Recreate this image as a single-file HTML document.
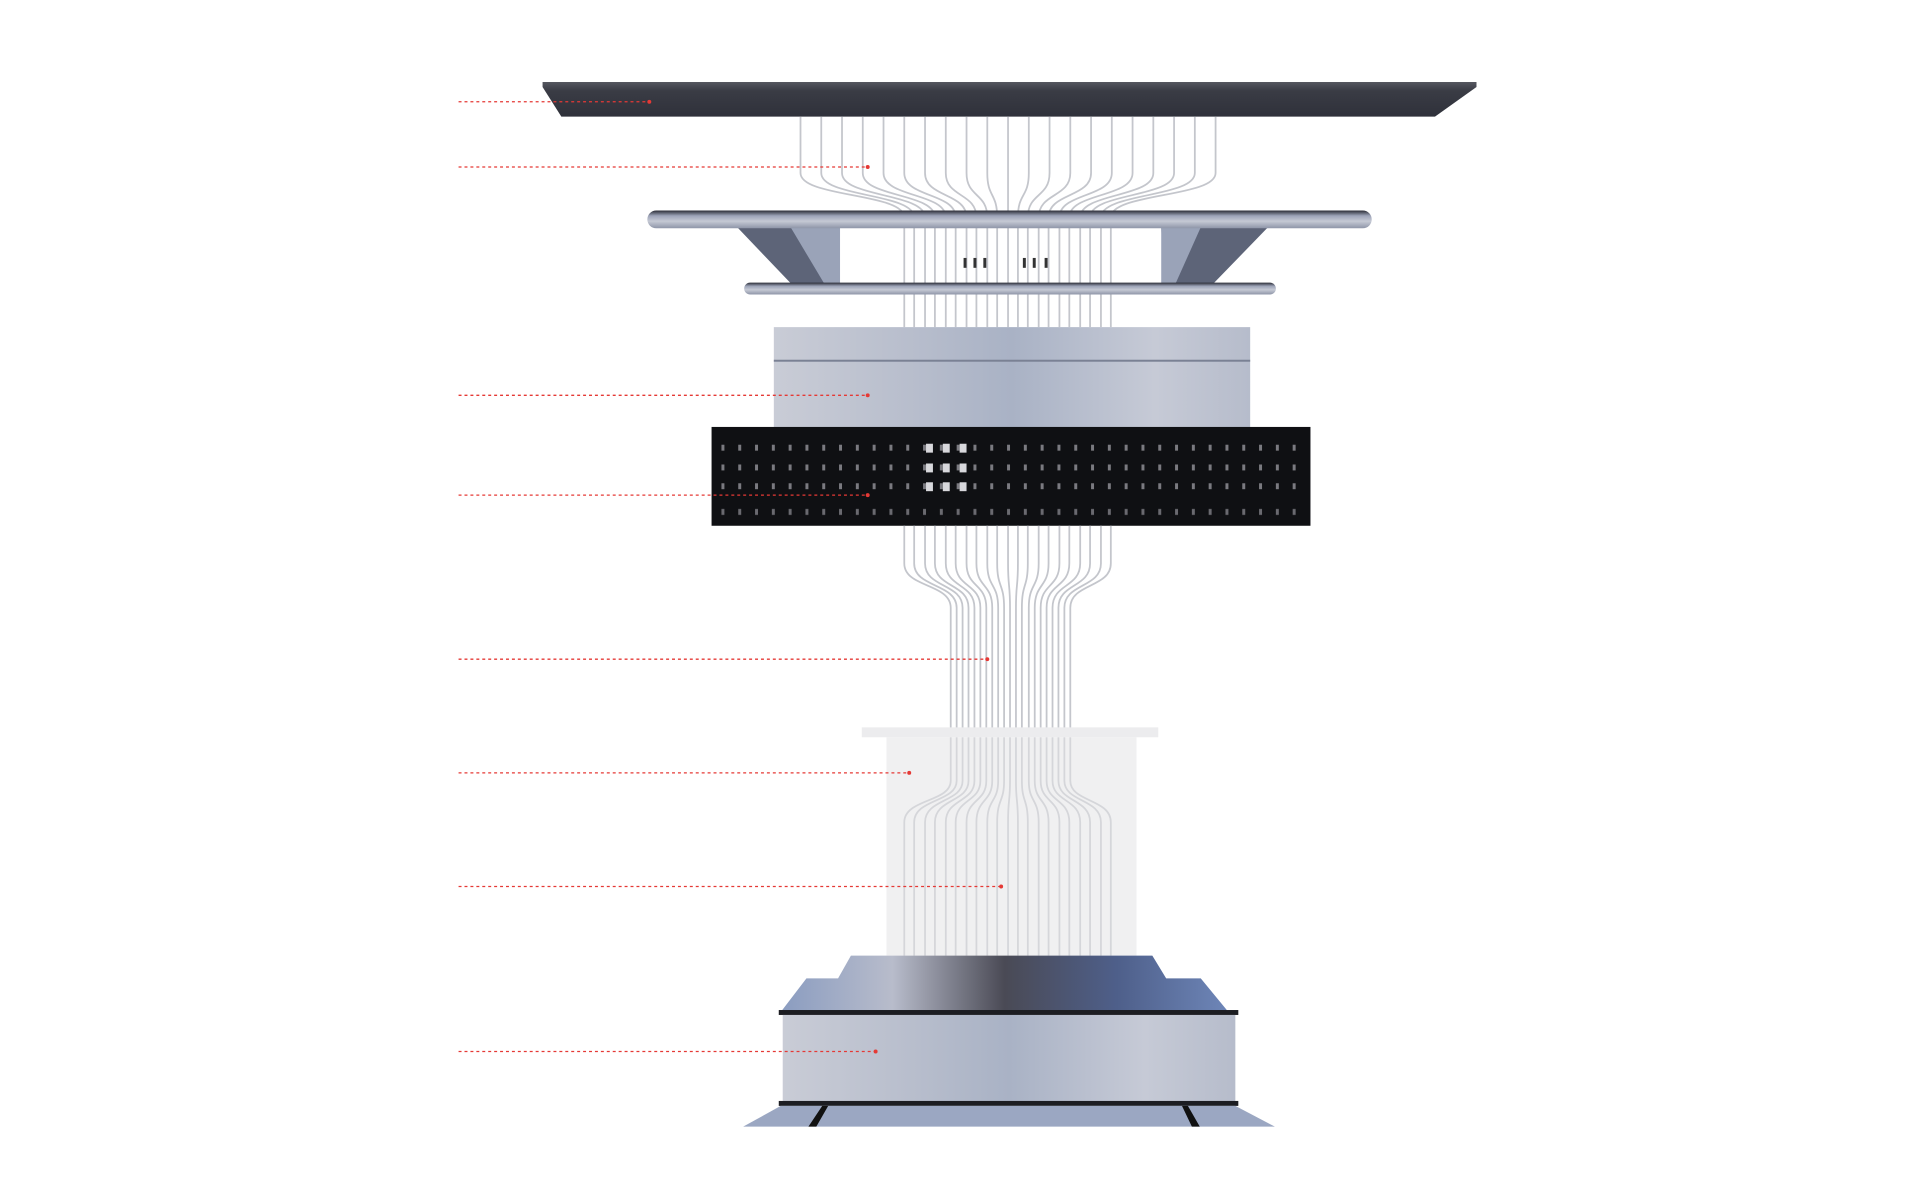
<!DOCTYPE html>
<html><head><meta charset="utf-8"><style>html,body{margin:0;padding:0;background:#fff}svg{display:block}</style></head>
<body>
<svg width="1917" height="1188" viewBox="0 0 1917 1188" xmlns="http://www.w3.org/2000/svg">
<defs>
<linearGradient id="top" x1="0" y1="0" x2="0" y2="1"><stop offset="0" stop-color="#55575f"/><stop offset="0.25" stop-color="#3a3c45"/><stop offset="1" stop-color="#2f313a"/></linearGradient>
<linearGradient id="metal" x1="0" y1="0" x2="1" y2="0"><stop offset="0" stop-color="#c9ccd6"/><stop offset="0.3" stop-color="#b7bdcc"/><stop offset="0.5" stop-color="#a9b2c5"/><stop offset="0.8" stop-color="#c6cad6"/><stop offset="1" stop-color="#b6bccb"/></linearGradient>
<linearGradient id="ring" x1="0" y1="0" x2="0" y2="1"><stop offset="0" stop-color="#2a2c36"/><stop offset="0.3" stop-color="#9da4b8"/><stop offset="0.6" stop-color="#c5c9d4"/><stop offset="1" stop-color="#8e95a8"/></linearGradient>
<linearGradient id="basetop" x1="0" y1="0" x2="1" y2="0"><stop offset="0" stop-color="#8a9cc0"/><stop offset="0.25" stop-color="#b8bccb"/><stop offset="0.5" stop-color="#4a4a55"/><stop offset="0.75" stop-color="#4e5f8a"/><stop offset="1" stop-color="#6e86b8"/></linearGradient>
<pattern id="dots" x="724" y="447" width="17" height="100" patternUnits="userSpaceOnUse">
<rect x="6" y="3" width="3" height="6" fill="#7a7a80"/><rect x="6" y="23" width="3" height="6" fill="#7a7a80"/><rect x="6" y="42" width="3" height="6" fill="#7a7a80"/><rect x="6" y="68" width="3" height="6" fill="#6a6a70"/></pattern>
</defs>
<g transform="scale(0.98828)">
<path d="M549 83 L1494 83 L1494 88 L1452 118 L568 118 L549 88 Z" fill="url(#top)"/>

<g fill="none" stroke="#c4c6cc" stroke-width="1.8">
<path d="M810 118 V175 C810 200,915 195,915 220 V331"/>
<path d="M831 118 V175 C831 200,925 195,925 220 V331"/>
<path d="M852 118 V175 C852 200,936 195,936 220 V331"/>
<path d="M873 118 V175 C873 200,946 195,946 220 V331"/>
<path d="M894 118 V175 C894 200,957 195,957 220 V331"/>
<path d="M915 118 V175 C915 200,967 195,967 220 V331"/>
<path d="M936 118 V175 C936 200,978 195,978 220 V331"/>
<path d="M957 118 V175 C957 200,988 195,988 220 V331"/>
<path d="M978 118 V175 C978 200,999 195,999 220 V331"/>
<path d="M999 118 V175 C999 200,1009 195,1009 220 V331"/>
<path d="M1020 118 V175 C1020 200,1020 195,1020 220 V331"/>
<path d="M1041 118 V175 C1041 200,1030 195,1030 220 V331"/>
<path d="M1062 118 V175 C1062 200,1040 195,1040 220 V331"/>
<path d="M1083 118 V175 C1083 200,1051 195,1051 220 V331"/>
<path d="M1104 118 V175 C1104 200,1061 195,1061 220 V331"/>
<path d="M1125 118 V175 C1125 200,1072 195,1072 220 V331"/>
<path d="M1146 118 V175 C1146 200,1082 195,1082 220 V331"/>
<path d="M1167 118 V175 C1167 200,1093 195,1093 220 V331"/>
<path d="M1188 118 V175 C1188 200,1103 195,1103 220 V331"/>
<path d="M1209 118 V175 C1209 200,1114 195,1114 220 V331"/>
<path d="M1230 118 V175 C1230 200,1124 195,1124 220 V331"/>
</g>
<g fill="#333"><rect x="975" y="261" width="3" height="10"/><rect x="985" y="261" width="3" height="10"/><rect x="995" y="261" width="3" height="10"/><rect x="1035" y="261" width="3" height="10"/><rect x="1045" y="261" width="3" height="10"/><rect x="1057" y="261" width="3" height="10"/></g>

<path d="M746 230 L850 230 L848 297 L810 297 Z" fill="#5d6478"/>
<path d="M800 230 L850 230 L850 297 L840 297 Z" fill="#9aa3b8"/>
<path d="M1175 230 L1283 230 L1218 297 L1178 297 Z" fill="#5d6478"/>
<path d="M1175 230 L1215 230 L1185 297 L1175 297 Z" fill="#9aa3b8"/>
<rect x="655" y="213" width="733" height="18" rx="9" fill="url(#ring)"/>
<rect x="753" y="286" width="538" height="12" rx="6" fill="url(#ring)"/>

<rect x="783" y="331" width="482" height="104" fill="url(#metal)"/>
<rect x="783" y="364" width="482" height="2" fill="#7a8194"/>

<rect x="720" y="432" width="606" height="100" fill="#0f1013"/>
<rect x="724" y="441" width="598" height="86" fill="url(#dots)"/>
<g fill="#d8d8dc"><rect x="937" y="449" width="7" height="9"/><rect x="954" y="449" width="7" height="9"/><rect x="971" y="449" width="7" height="9"/><rect x="937" y="469" width="7" height="9"/><rect x="954" y="469" width="7" height="9"/><rect x="971" y="469" width="7" height="9"/><rect x="937" y="488" width="7" height="9"/><rect x="954" y="488" width="7" height="9"/><rect x="971" y="488" width="7" height="9"/></g>

<g fill="none" stroke="#c4c6cc" stroke-width="1.8">
<path d="M915 532 V570 C915 595,962 590,962 615 V740 M962 746 V790 C962 812,915 808,915 832 V967"/>
<path d="M925 532 V570 C925 595,968 590,968 615 V740 M968 746 V790 C968 812,925 808,925 832 V967"/>
<path d="M936 532 V570 C936 595,974 590,974 615 V740 M974 746 V790 C974 812,936 808,936 832 V967"/>
<path d="M946 532 V570 C946 595,980 590,980 615 V740 M980 746 V790 C980 812,946 808,946 832 V967"/>
<path d="M957 532 V570 C957 595,986 590,986 615 V740 M986 746 V790 C986 812,957 808,957 832 V967"/>
<path d="M967 532 V570 C967 595,992 590,992 615 V740 M992 746 V790 C992 812,967 808,967 832 V967"/>
<path d="M978 532 V570 C978 595,998 590,998 615 V740 M998 746 V790 C998 812,978 808,978 832 V967"/>
<path d="M988 532 V570 C988 595,1004 590,1004 615 V740 M1004 746 V790 C1004 812,988 808,988 832 V967"/>
<path d="M999 532 V570 C999 595,1010 590,1010 615 V740 M1010 746 V790 C1010 812,999 808,999 832 V967"/>
<path d="M1009 532 V570 C1009 595,1016 590,1016 615 V740 M1016 746 V790 C1016 812,1009 808,1009 832 V967"/>
<path d="M1020 532 V570 C1020 595,1022 590,1022 615 V740 M1022 746 V790 C1022 812,1020 808,1020 832 V967"/>
<path d="M1030 532 V570 C1030 595,1028 590,1028 615 V740 M1028 746 V790 C1028 812,1030 808,1030 832 V967"/>
<path d="M1040 532 V570 C1040 595,1034 590,1034 615 V740 M1034 746 V790 C1034 812,1040 808,1040 832 V967"/>
<path d="M1051 532 V570 C1051 595,1041 590,1041 615 V740 M1041 746 V790 C1041 812,1051 808,1051 832 V967"/>
<path d="M1061 532 V570 C1061 595,1047 590,1047 615 V740 M1047 746 V790 C1047 812,1061 808,1061 832 V967"/>
<path d="M1072 532 V570 C1072 595,1053 590,1053 615 V740 M1053 746 V790 C1053 812,1072 808,1072 832 V967"/>
<path d="M1082 532 V570 C1082 595,1059 590,1059 615 V740 M1059 746 V790 C1059 812,1082 808,1082 832 V967"/>
<path d="M1093 532 V570 C1093 595,1065 590,1065 615 V740 M1065 746 V790 C1065 812,1093 808,1093 832 V967"/>
<path d="M1103 532 V570 C1103 595,1071 590,1071 615 V740 M1071 746 V790 C1071 812,1103 808,1103 832 V967"/>
<path d="M1114 532 V570 C1114 595,1077 590,1077 615 V740 M1077 746 V790 C1077 812,1114 808,1114 832 V967"/>
<path d="M1124 532 V570 C1124 595,1083 590,1083 615 V740 M1083 746 V790 C1083 812,1124 808,1124 832 V967"/>
</g>

<rect x="897" y="746" width="253" height="221" fill="#e4e4e6" opacity="0.55"/>
<rect x="872" y="736" width="300" height="10" fill="#ececee"/>

<path d="M861 967 L1166 967 L1180 990 L1215 990 L1243 1024 L790 1024 L816 990 L848 990 Z" fill="url(#basetop)"/>
<rect x="788" y="1022" width="465" height="5" fill="#1c1d22"/>
<rect x="792" y="1027" width="458" height="88" fill="url(#metal)"/>
<rect x="788" y="1114" width="465" height="5" fill="#1c1d22"/>
<path d="M790 1119 L1250 1119 L1290 1140 L752 1140 Z" fill="#9ba7c2"/>
<path d="M832 1119 L838 1119 L826 1140 L818 1140 Z M1196 1119 L1202 1119 L1214 1140 L1206 1140 Z" fill="#111"/>

<g stroke="#e53935" stroke-width="1.3" stroke-dasharray="3 3" fill="none">
<path d="M464 103 H657"/><path d="M464 169 H878"/><path d="M464 400 H878"/><path d="M464 501 H878"/>
<path d="M464 667 H999"/><path d="M464 782 H920"/><path d="M464 897 H1013"/><path d="M464 1064 H886"/>
</g>
<g fill="#e53935">
<circle cx="657" cy="103" r="2"/><circle cx="878" cy="169" r="2"/><circle cx="878" cy="400" r="2"/><circle cx="878" cy="501" r="2"/>
<circle cx="999" cy="667" r="2"/><circle cx="920" cy="782" r="2"/><circle cx="1013" cy="897" r="2"/><circle cx="886" cy="1064" r="2"/>
</g>
</g>
</svg>
</body></html>
